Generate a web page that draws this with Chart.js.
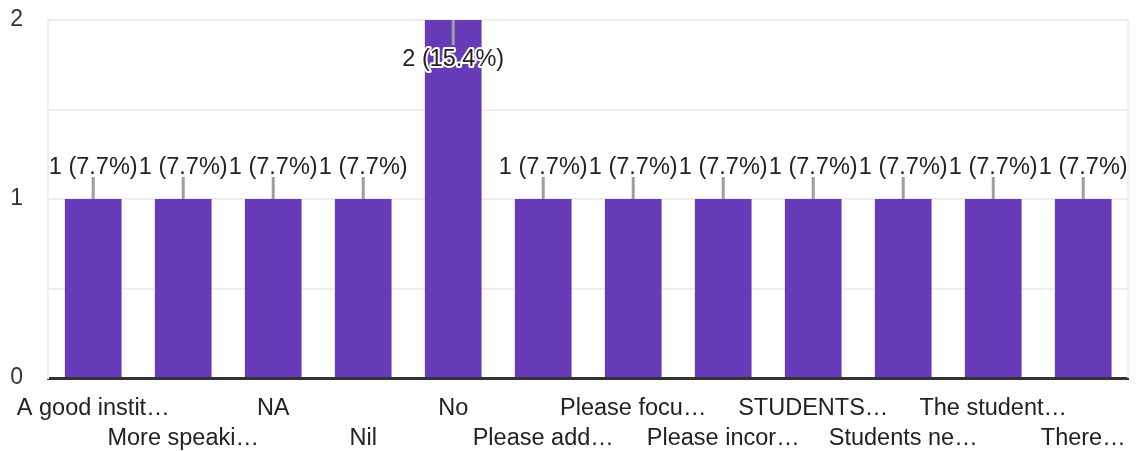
<!DOCTYPE html>
<html>
<head>
<meta charset="utf-8">
<script src="https://cdn.jsdelivr.net/npm/chart.js@4/dist/chart.umd.min.js"></script>
<style>
  html, body { margin: 0; padding: 0; background: #fff; }
  #wrap { width: 1141px; height: 451px; }
</style>
</head>
<body>
<div id="wrap"><canvas id="chart"></canvas></div>
<script>
// responses, as shown (labels are cut off in the original)
const categories = [
  "A good instit…", "More speaki…", "NA", "Nil", "No", "Please add…",
  "Please focu…", "Please incor…", "STUDENTS…", "Students ne…", "The student…", "There…"
];
const counts = [1, 1, 1, 1, 2, 1, 1, 1, 1, 1, 1, 1];
const percents = ["7.7%", "7.7%", "7.7%", "7.7%", "15.4%", "7.7%", "7.7%", "7.7%", "7.7%", "7.7%", "7.7%", "7.7%"];
const yTickLabels = [0, 1, 2];

const FONT = "Liberation Sans, Arial, sans-serif";

// count labels with little grey leader lines, plus the frame
const barLabels = {
  id: "barLabels",
  beforeDatasetsDraw(chart) {
    const { ctx, chartArea } = chart;
    ctx.save();
    ctx.strokeStyle = "#eeeeee";
    ctx.lineWidth = 2;
    ctx.beginPath();
    ctx.moveTo(chartArea.right, chartArea.top);
    ctx.lineTo(chartArea.right, chartArea.bottom);
    ctx.stroke();
    ctx.restore();
  },
  afterDatasetsDraw(chart) {
    const { ctx, chartArea } = chart;
    const meta = chart.getDatasetMeta(0);
    ctx.save();
    ctx.font = "23.5px " + FONT;
    ctx.textAlign = "center";
    ctx.textBaseline = "middle";
    meta.data.forEach((bar, i) => {
      const txt = counts[i] + " (" + percents[i] + ")";
      const x = bar.x, top = bar.y;
      ctx.strokeStyle = "#9e9e9e";
      ctx.lineWidth = 3;
      ctx.beginPath();
      if (top - 50 < chartArea.top) {
        // no room above: draw inside the bar
        ctx.moveTo(x, top);
        ctx.lineTo(x, top + 25);
        ctx.stroke();
        ctx.lineJoin = "round";
        ctx.strokeStyle = "#fff";
        ctx.lineWidth = 4;
        ctx.strokeText(txt, x, top + 40);
        ctx.fillStyle = "#222";
        ctx.fillText(txt, x, top + 40);
      } else {
        ctx.moveTo(x, top);
        ctx.lineTo(x, top - 22);
        ctx.stroke();
        ctx.fillStyle = "#222";
        ctx.fillText(txt, x, top - 31);
      }
    });
    ctx.restore();
  }
};

new Chart(document.getElementById("chart"), {
  type: "bar",
  data: {
    labels: categories,
    datasets: [{
      data: counts,
      backgroundColor: "#673ab7",
      barPercentage: 0.63,
      categoryPercentage: 1
    }]
  },
  options: {
    responsive: true,
    maintainAspectRatio: false,
    animation: false,
    layout: { padding: { top: 20, right: 8, left: 10, bottom: 0 } },
    plugins: { legend: { display: false }, tooltip: { enabled: false } },
    scales: {
      x: {
        grid: { display: false, drawTicks: false },
        border: { display: true, color: "#333", width: 3 },
        ticks: {
          autoSkip: false,
          maxRotation: 0,
          minRotation: 0,
          padding: 15,
          color: "#222",
          font: { family: FONT, size: 23.5, lineHeight: 1.3 },
          callback: (v, i) => (i % 2 === 0 ? categories[i] : ["", categories[i]])
        },
        afterFit: (s) => { s.height = 73; }
      },
      y: {
        min: 0,
        max: 2,
        grid: { color: "#eeeeee", lineWidth: 2, drawTicks: false },
        border: { display: true, color: "#eeeeee", width: 2 },
        ticks: {
          stepSize: 0.5,
          padding: 0,
          crossAlign: "far",
          color: "#333",
          font: { family: FONT, size: 23 },
          callback: (v) => (yTickLabels.includes(v) ? String(v) : "")
        },
        afterFit: (s) => { s.width = 38; }
      }
    }
  },
  plugins: [barLabels]
});
</script>
</body>
</html>
